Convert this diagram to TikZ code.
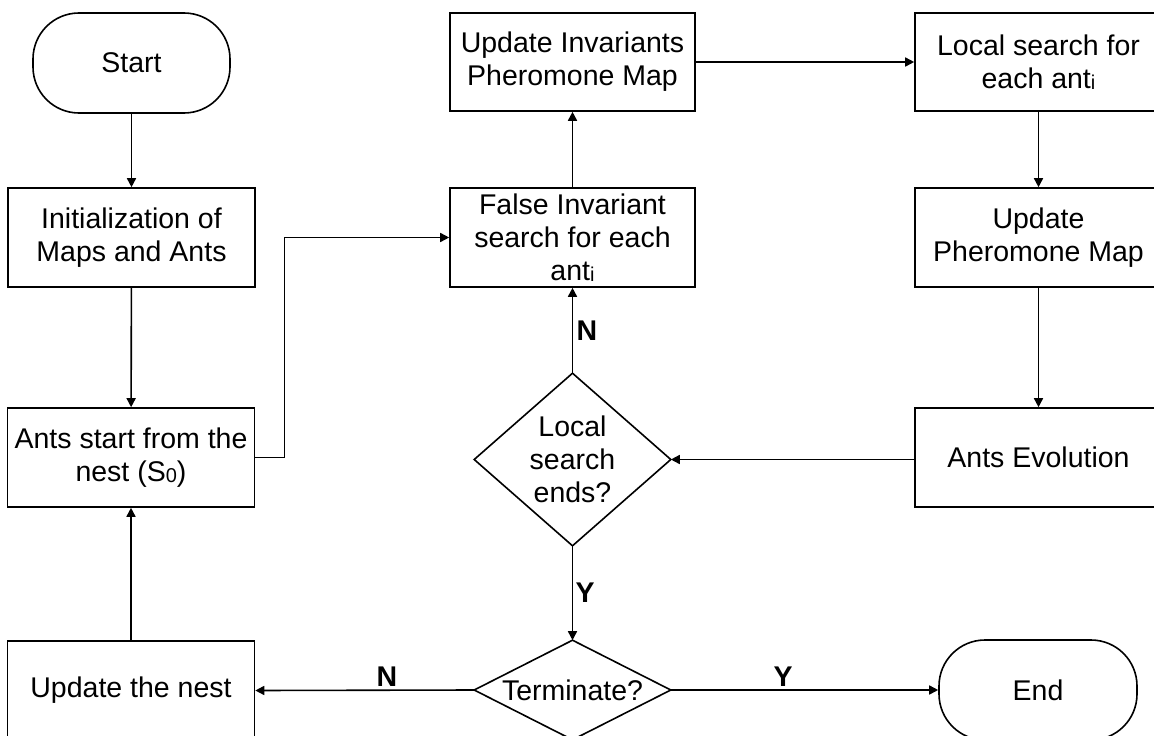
\documentclass[tikz,border=0pt]{standalone}
\usepackage{fontspec}
\setmainfont{Liberation Sans}
\usetikzlibrary{arrows.meta}
\newcommand\dfont{\fontsize{28.5}{33}\selectfont}
\newcommand\lowsub[1]{\raisebox{-1.5pt}{\fontsize{20}{20}\selectfont #1}}
\begin{document}
\begin{tikzpicture}[x=1pt,y=-1pt,line width=1.6pt,
  >={Triangle[length=9pt,width=9pt]},
  box/.style={draw,rectangle,minimum width=247pt,minimum height=99pt,inner sep=0pt,align=center,font=\dfont},
  term/.style={draw,rectangle,rounded corners=46pt,minimum width=197pt,minimum height=100pt,inner sep=0pt,align=center,font=\dfont},
  decide/.style={rectangle,inner sep=0pt,minimum width=195pt,align=center,font=\dfont},
  lbl/.style={font=\dfont\bfseries,inner sep=0pt}]
\clip (0,0) rectangle (1154,736);
\useasboundingbox (0,0) rectangle (1154,736);
% nodes
\node[term] (start) at (131.5,63) {Start};
\node[box] (init) at (131.5,237.5) {Initialization of\\Maps and Ants};
\node[box] (ants) at (131,457.5) {Ants start from the\\nest (S\lowsub{0})};
\node[box] (nest) at (131,690.5) {Update the nest};
\node[box,minimum width=245pt] (fis) at (572.5,237.5) {False Invariant\\search for each\\ant\lowsub{i}};
\node[box,minimum width=245pt,minimum height=98pt] (uipm) at (572.5,62) {Update Invariants\\Pheromone Map};
\node[box,minimum height=98pt] (ls) at (1038.5,62) {Local search for\\each ant\lowsub{i}};
\node[box] (upm) at (1038.5,237.5) {Update\\Pheromone Map};
\node[box] (evo) at (1038.5,457.5) {Ants Evolution};
\node[decide,minimum height=171pt] (lse) at (572.5,459.5) {Local\\search\\ends?};
\node[decide,minimum height=98pt] (tm) at (572.5,690) {Terminate?};
\node[term,minimum width=198pt] (end) at (1038,690) {End};
\draw (lse.west) -- (lse.north) -- (lse.east) -- (lse.south) -- cycle;
\draw (tm.west) -- (tm.north) -- (tm.east) -- (tm.south) -- cycle;
% labels
\node[lbl] (n1) at (587,331) {N};
\node[lbl] (y1) at (585,593) {Y};
\node[lbl] (n2) at (387,677) {N};
\node[lbl] (y2) at (783,677) {Y};
% connectors
\draw[->] (start) -- (init);
\draw[->] (init) -- (ants);
\draw[->] (nest) -- (ants);
\draw[->] (ants.east) -- ++(29,0) |- (fis.west);
\draw[->] (fis) -- (uipm);
\draw[->] (uipm) -- (ls);
\draw[->] (ls) -- (upm);
\draw[->] (upm) -- (evo);
\draw[->] (lse.east -| evo.west) -- (lse.east);
\draw[->] (lse.north) -- (fis.south);
\draw[->] (lse.south) -- (tm.north);
\draw[->] (tm.west) -- (nest.east);
\draw[->] (tm.east) -- (end.west);
\end{tikzpicture}
\end{document}
